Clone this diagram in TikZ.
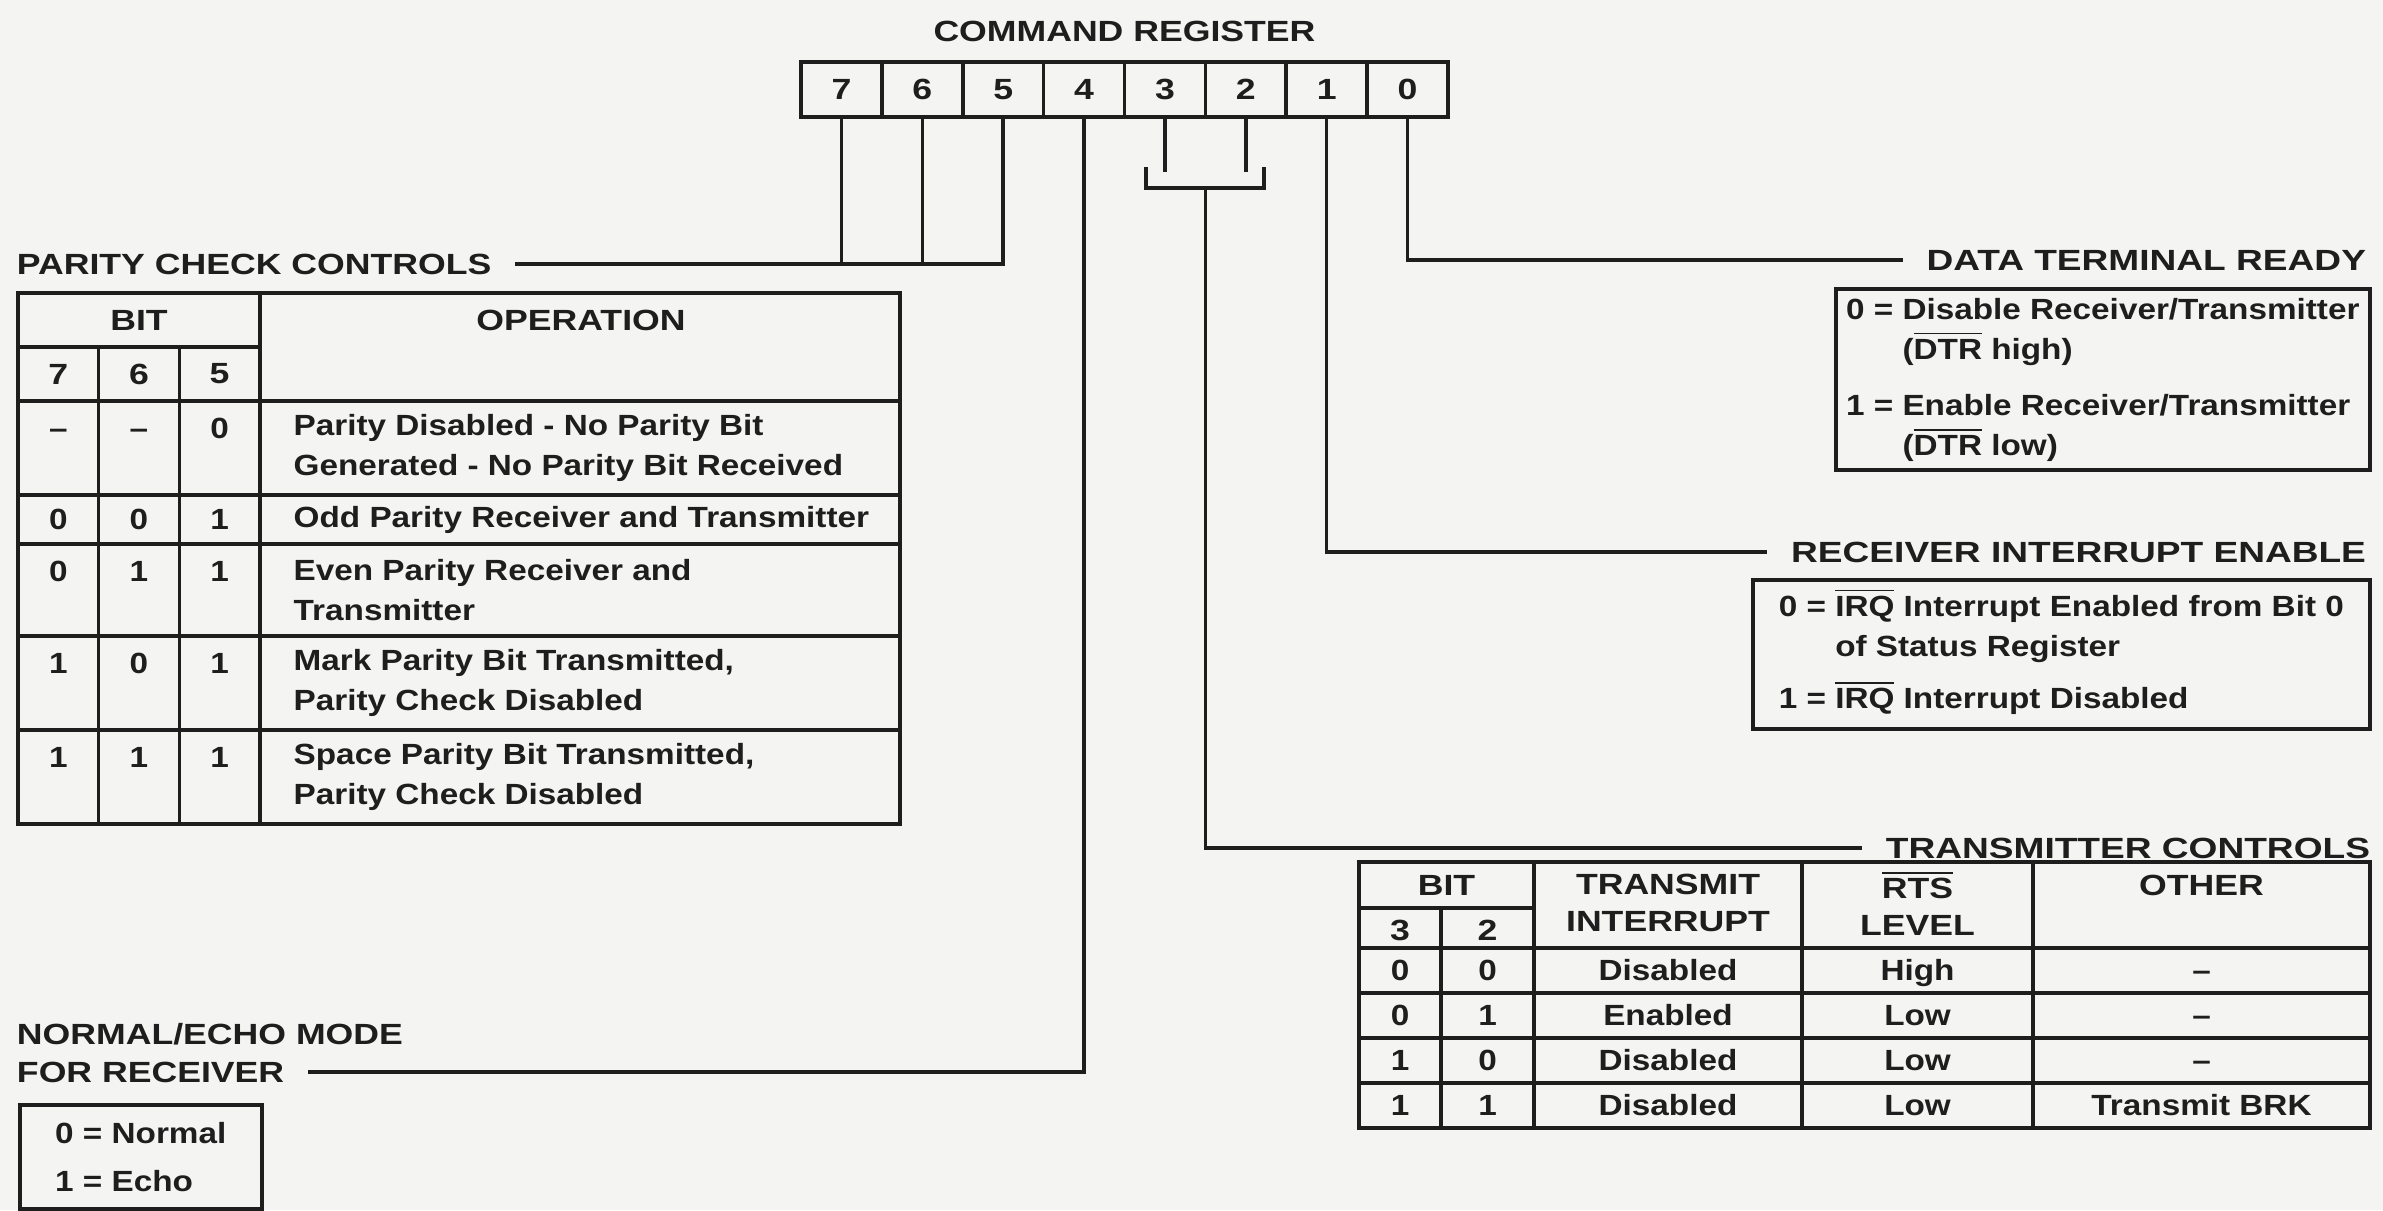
\documentclass[tikz,border=0pt]{standalone}
\usepackage{fontspec}
\usepackage{tikz}
\usetikzlibrary{positioning}
\newfontfamily\headfont[FakeStretch=1.22]{Liberation Sans}
\newfontfamily\wideheadfont[FakeStretch=1.27]{Liberation Sans}
\newfontfamily\bodyfont[FakeStretch=1.14]{Liberation Sans}
\definecolor{paper}{RGB}{244,244,242}
\definecolor{ink}{RGB}{30,30,30}
\newcommand{\ovl}[1]{$\overline{\mbox{#1}}$}
\tikzset{
  regcell/.style={draw=ink, line width=0.9pt, minimum width=20.22pt, minimum height=13.75pt, inner sep=0pt, outer sep=0pt, font=\headfont\bfseries\fontsize{7.3}{9}\selectfont},
  head/.style={inner sep=0pt, outer xsep=6pt, font=\headfont\bfseries\fontsize{7.3}{9}\selectfont},
  righthead/.style={head, anchor=east, font=\wideheadfont\bfseries\fontsize{7.3}{9}\selectfont},
  colhead/.style={inner sep=0pt, align=center, font=\headfont\bfseries\fontsize{7.3}{9.25}\selectfont},
  optext/.style={inner sep=0pt, align=left, anchor=west, font=\bodyfont\bfseries\fontsize{7.3}{10}\selectfont},
  cell/.style={inner sep=0pt, text height=5.2pt, text depth=0pt, font=\bodyfont\bfseries\fontsize{7.3}{10}\selectfont},
  valbox/.style={draw=ink, line width=0.9pt, inner sep=0pt, align=left, font=\bodyfont\bfseries\fontsize{7.3}{10}\selectfont}
}

\begin{document}
\begin{tikzpicture}[x=0.25pt, y=-0.25pt, line width=0.85pt, ink]
    \useasboundingbox[fill=paper] (0,0) rectangle (2383,1210);

    \node (r7) [regcell] at (841.4,89.5) {7};
    \foreach \b/\p in {6/7,5/6,4/5,3/4,2/3,1/2,0/1}
        \node (r\b) [regcell, right=0pt of r\p] {\b};
    \node (creg) [head, outer xsep=0pt, above=4.75pt of r4.north east] {COMMAND REGISTER};

    \node (pcc) [head, anchor=west] at (-7,264) {PARITY CHECK CONTROLS};
    \draw (r5.south) |- (pcc.east);
    \draw (r7.south) -- (r7.south |- pcc.east);
    \draw (r6.south) -- (r6.south |- pcc.east);

    \draw (18,293) rectangle (900,824);
    \draw (18,347) -- (260,347);
    \draw (260,293) -- (260,824);
    \foreach \x in {98.7,179.3} \draw (\x,347) -- (\x,824);
    \foreach \y in {401,495,544,636,730} \draw (18,\y) -- (900,\y);
    \node (pbit) [colhead] at (139,320) {BIT};
    \node (pop) [colhead] at (581,320) {OPERATION};
    \foreach \b/\x in {7/58.4,6/139,5/219.6} \node (ph\b) [colhead] at (\x,374) {\b};
    \foreach \y/\va/\vb/\vc [count=\i] in {428/\textendash/\textendash/0,519.5/0/0/1,571/0/1/1,663/1/0/1,757/1/1/1} {
        \node (pa\i) [cell] at (58.4,\y) {\va};
        \node (pb\i) [cell] at (139,\y) {\vb};
        \node (pc\i) [cell] at (219.6,\y) {\vc};
    }
    \node (op1) [optext] at (292,448) {Parity Disabled - No Parity Bit\\Generated - No Parity Bit Received};
    \node (op2) [optext] at (292,519.5) {Odd Parity Receiver and Transmitter};
    \node (op3) [optext] at (292,590) {Even Parity Receiver and\\Transmitter};
    \node (op4) [optext] at (292,683) {Mark Parity Bit Transmitted,\\Parity Check Disabled};
    \node (op5) [optext] at (292,777) {Space Parity Bit Transmitted,\\Parity Check Disabled};

    \node (ner) [head, anchor=west] at (-7,1072) {FOR RECEIVER};
    \node (nem) [head, above=3.25pt of ner.north west, anchor=south west] {NORMAL/ECHO MODE};
    \draw (r4.south) |- (ner.east);
    \node (neb) [valbox, anchor=north west, minimum width=60.5pt, minimum height=26pt] at (18,1103) {0 = Normal\\[2pt]1 = Echo};

    \node (dtr) [righthead] at (2390,260) {DATA TERMINAL READY};
    \draw (r0.south) |- (dtr.west);
    \node (dtrb) [valbox, anchor=north west, minimum width=133.5pt, minimum height=45.25pt] at (1834,287)
        {\begin{tabular}{@{}l@{ }l@{}}0 = & Disable Receiver/Transmitter\\ & (\ovl{DTR} high)\\[4pt]1 = & Enable Receiver/Transmitter\\ & (\ovl{DTR} low)\end{tabular}};

    \node (rie) [righthead] at (2390,552) {RECEIVER INTERRUPT ENABLE};
    \draw (r1.south) |- (rie.west);
    \node (rieb) [valbox, anchor=north west, minimum width=154.25pt, minimum height=37.25pt] at (1751,578)
        {\begin{tabular}{@{}l@{ }l@{}}0 = & \ovl{IRQ} Interrupt Enabled from Bit 0\\ & of Status Register\\[3pt]1 = & \ovl{IRQ} Interrupt Disabled\end{tabular}};

    \coordinate (tcl) at (1146,167);
    \coordinate (tcr) at (1264,167);
    \coordinate (tcj) at (1205.4,188);
    \draw (r3.south) -- ++(0,55);
    \draw (r2.south) -- ++(0,55);
    \draw (tcl) |- (tcj) -| (tcr);
    \node (tc) [righthead] at (2394,848) {TRANSMITTER CONTROLS};
    \draw (tcj) |- (tc.west);

    \draw (1359,862) rectangle (2370,1128);
    \draw (1359,908) -- (1534,908);
    \draw (1441,908) -- (1441,1128);
    \foreach \x in {1534,1802,2033} \draw (\x,862) -- (\x,1128);
    \foreach \y in {948,993,1038,1083} \draw (1359,\y) -- (2370,\y);
    \node (tbit) [colhead] at (1446.5,885) {BIT};
    \node (th3) [colhead] at (1400,930) {3};
    \node (th2) [colhead] at (1487.5,930) {2};
    \node (tint) [colhead] at (1668,903) {TRANSMIT\\INTERRUPT};
    \node (trts) [colhead] at (1917.5,903) {\ovl{RTS}\\LEVEL};
    \node (toth) [colhead] at (2201.5,885) {OTHER};
    \foreach \y/\va/\vb/\vc/\vd/\ve [count=\i] in {970.5/0/0/Disabled/High/\textendash,1015.5/0/1/Enabled/Low/\textendash,1060.5/1/0/Disabled/Low/\textendash,1105.5/1/1/Disabled/Low/Transmit BRK} {
        \node (ta\i) [cell] at (1400,\y) {\va};
        \node (tb\i) [cell] at (1487.5,\y) {\vb};
        \node (ti\i) [cell] at (1668,\y) {\vc};
        \node (tr\i) [cell] at (1917.5,\y) {\vd};
        \node (to\i) [cell] at (2201.5,\y) {\ve};
    }
\end{tikzpicture}
\end{document}
